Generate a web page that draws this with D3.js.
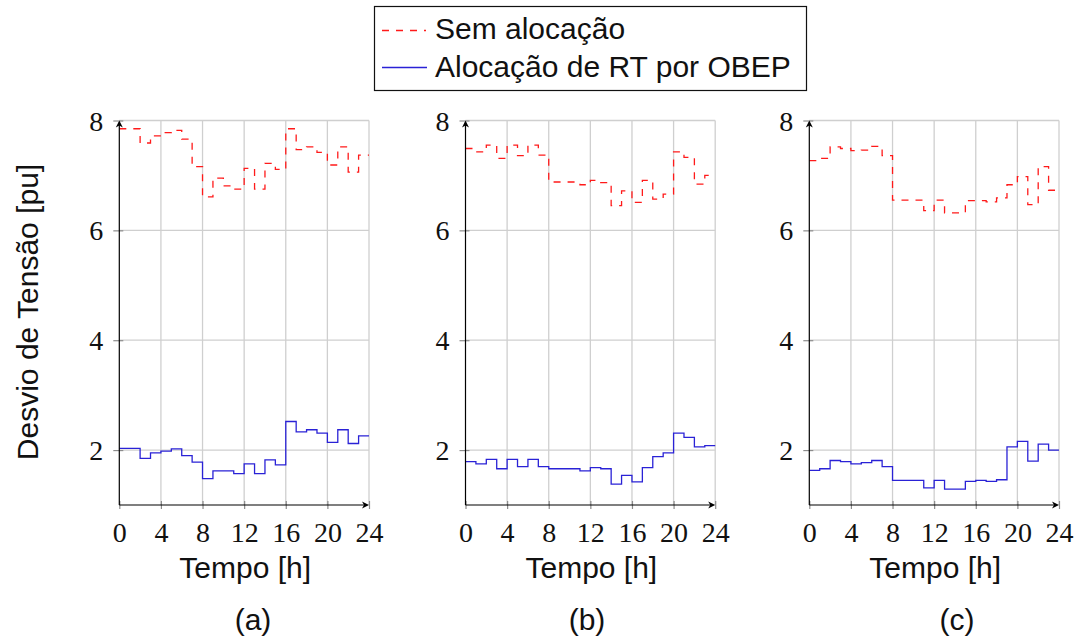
<!DOCTYPE html>
<html>
<head>
<meta charset="utf-8">
<script src="https://cdn.jsdelivr.net/npm/d3@7"></script>
<style>
  html, body { margin: 0; padding: 0; background: #fff; }
  svg { display: block; }
</style>
</head>
<body>
<svg id="chart" width="1079" height="644"></svg>
<script>
// Hourly voltage-deviation profiles (pu), one value per hour 0..23
const hours = d3.range(24);
const xTickValues = [0, 4, 8, 12, 16, 20, 24];
const yTickValues = [2, 4, 6, 8];
const panelLabels = ["(a)", "(b)", "(c)"];
const seriesNames = ["Sem alocação", "Alocação de RT por OBEP"];

const semAlocacaoA = [7.85, 7.85, 7.59, 7.72, 7.78, 7.82, 7.66, 7.16, 6.61, 6.95, 6.81, 6.75,
                      7.13, 6.75, 7.22, 7.11, 7.85, 7.47, 7.52, 7.42, 7.19, 7.52, 7.06, 7.37];
const obepA        = [2.03, 2.03, 1.85, 1.95, 1.98, 2.02, 1.90, 1.78, 1.48, 1.62, 1.62, 1.57,
                      1.75, 1.57, 1.82, 1.73, 2.52, 2.33, 2.37, 2.31, 2.14, 2.37, 2.12, 2.26];

const semAlocacaoB = [7.49, 7.43, 7.55, 7.31, 7.55, 7.36, 7.55, 7.37, 6.88, 6.88, 6.88, 6.83,
                      6.91, 6.87, 6.45, 6.72, 6.51, 6.91, 6.57, 6.66, 7.43, 7.33, 6.84, 7.00];
const obepB        = [1.79, 1.75, 1.83, 1.66, 1.83, 1.70, 1.83, 1.70, 1.66, 1.66, 1.66, 1.62,
                      1.68, 1.66, 1.38, 1.54, 1.42, 1.68, 1.88, 1.95, 2.31, 2.23, 2.06, 2.08];

const semAlocacaoC = [7.27, 7.31, 7.52, 7.49, 7.45, 7.46, 7.53, 7.36, 6.55, 6.55, 6.55, 6.36,
                      6.55, 6.32, 6.32, 6.54, 6.54, 6.52, 6.59, 6.83, 6.98, 6.47, 7.16, 6.73];
const obepC        = [1.63, 1.66, 1.81, 1.79, 1.75, 1.77, 1.81, 1.70, 1.45, 1.45, 1.45, 1.31,
                      1.45, 1.29, 1.29, 1.43, 1.45, 1.43, 1.46, 2.06, 2.16, 1.80, 2.11, 2.00];

const panels = [
  { label: panelLabels[0], sem: semAlocacaoA, obep: obepA, left: 119.3, capX: 253 },
  { label: panelLabels[1], sem: semAlocacaoB, obep: obepB, left: 465.5, capX: 587 },
  { label: panelLabels[2], sem: semAlocacaoC, obep: obepC, left: 809.3, capX: 957 }
];

const RED = "#ff1a1a";
const BLUE = "#2a22d6";
const GRID = "#cfcfcf";
const TICK = "#8c8c8c";
const SERIF = "'Liberation Serif', 'DejaVu Serif', serif";
const SANS = "'Liberation Sans', Arial, sans-serif";
const SANS_SIZE = 30;

const svg = d3.select("#chart");
svg.append("rect").attr("width", 1079).attr("height", 644).attr("fill", "#fff");

const plotW = 249.7;
const x = d3.scaleLinear().domain([0, 24]).range([0, plotW]);
const y = d3.scaleLinear().domain([1, 8]).range([505, 120.5]);

// step line: each hourly value holds until the next hour, last one until 24h
const stepLine = d3.line()
  .x(d => x(d[0]))
  .y(d => y(d[1]))
  .curve(d3.curveStepAfter);
const stepPoints = vals => hours.map(h => [h, vals[h]]).concat([[24, vals[23]]]);

panels.forEach(p => {
  const g = svg.append("g").attr("transform", `translate(${p.left},0)`);

  // grid
  g.append("g").selectAll("line.vg")
    .data(xTickValues.filter(t => t > 0))
    .join("line")
    .attr("x1", d => x(d)).attr("x2", d => x(d))
    .attr("y1", y(1)).attr("y2", y(8))
    .attr("stroke", GRID).attr("stroke-width", 1.3);
  g.append("g").selectAll("line.hg")
    .data(yTickValues)
    .join("line")
    .attr("x1", x(0)).attr("x2", x(24))
    .attr("y1", d => y(d)).attr("y2", d => y(d))
    .attr("stroke", GRID).attr("stroke-width", 1.3);

  // series
  g.append("path")
    .attr("d", stepLine(stepPoints(p.sem)))
    .attr("fill", "none").attr("stroke", RED).attr("stroke-width", 1.3)
    .attr("stroke-dasharray", "7,7");
  g.append("path")
    .attr("d", stepLine(stepPoints(p.obep)))
    .attr("fill", "none").attr("stroke", BLUE).attr("stroke-width", 1.3);

  // x axis with ticks
  const xAxis = d3.axisBottom(x).tickValues(xTickValues).tickSize(0).tickFormat(d3.format("d"));
  const xg = g.append("g").attr("transform", `translate(0,${y(1)})`).call(xAxis);
  xg.select(".domain").remove();
  xg.selectAll(".tick text")
    .attr("font-family", SERIF).attr("font-size", 28).attr("fill", "#111")
    .attr("dy", 0).attr("y", 37);
  xg.selectAll(".tick").append("line")
    .attr("y1", -4).attr("y2", 4).attr("stroke", TICK).attr("stroke-width", 1.2);

  // y axis with ticks
  const yAxis = d3.axisLeft(y).tickValues(yTickValues).tickSize(0).tickFormat(d3.format("d"));
  const yg = g.append("g").attr("transform", `translate(${x(0)},0)`).call(yAxis);
  yg.select(".domain").remove();
  yg.selectAll(".tick text")
    .attr("font-family", SERIF).attr("font-size", 28).attr("fill", "#111")
    .attr("x", -16).attr("dy", "0.34em");
  yg.selectAll(".tick").append("line")
    .attr("x1", -6).attr("x2", 4).attr("stroke", TICK).attr("stroke-width", 1.2);

  // axis lines with arrow heads
  g.append("line")
    .attr("x1", x(0)).attr("x2", x(24) - 2)
    .attr("y1", y(1)).attr("y2", y(1))
    .attr("stroke", "#000").attr("stroke-width", 1.2);
  g.append("line")
    .attr("x1", x(0)).attr("x2", x(0))
    .attr("y1", y(1)).attr("y2", y(8) + 2)
    .attr("stroke", "#000").attr("stroke-width", 1.2);
  const ax = x(24), ay = y(1);
  g.append("path")
    .attr("d", `M${ax},${ay} L${ax - 7},${ay - 3.5} L${ax - 5},${ay} L${ax - 7},${ay + 3.5} Z`)
    .attr("fill", "#000");
  const bx = x(0), by = y(8);
  g.append("path")
    .attr("d", `M${bx},${by} L${bx - 3.5},${by + 7} L${bx},${by + 5} L${bx + 3.5},${by + 7} Z`)
    .attr("fill", "#000");

  // x axis title and caption
  svg.append("text")
    .attr("x", p.left + plotW / 2 + 1).attr("y", 578)
    .attr("text-anchor", "middle")
    .attr("font-family", SANS).attr("font-size", SANS_SIZE).attr("fill", "#111")
    .text("Tempo [h]");
  svg.append("text")
    .attr("x", p.capX).attr("y", 630)
    .attr("text-anchor", "middle")
    .attr("font-family", SANS).attr("font-size", SANS_SIZE).attr("fill", "#111")
    .text(p.label);
});

// y axis title (shared)
svg.append("text")
  .attr("transform", "translate(38,312) rotate(-90)")
  .attr("text-anchor", "middle")
  .attr("font-family", SANS).attr("font-size", SANS_SIZE).attr("fill", "#111")
  .text("Desvio de Tensão [pu]");

// legend
const legend = svg.append("g");
legend.append("rect")
  .attr("x", 374.5).attr("y", 6.5).attr("width", 432).attr("height", 84)
  .attr("fill", "#fff").attr("stroke", "#111").attr("stroke-width", 1.2);
legend.append("line")
  .attr("x1", 382).attr("x2", 426).attr("y1", 30.5).attr("y2", 30.5)
  .attr("stroke", RED).attr("stroke-width", 1.3).attr("stroke-dasharray", "7,7");
legend.append("line")
  .attr("x1", 382).attr("x2", 427).attr("y1", 67.5).attr("y2", 67.5)
  .attr("stroke", BLUE).attr("stroke-width", 1.3);
legend.selectAll("text.lg")
  .data(seriesNames)
  .join("text")
  .attr("x", 435).attr("y", (d, i) => 39 + i * 38)
  .attr("font-family", SANS).attr("font-size", SANS_SIZE).attr("fill", "#111")
  .text(d => d);
</script>
</body>
</html>
